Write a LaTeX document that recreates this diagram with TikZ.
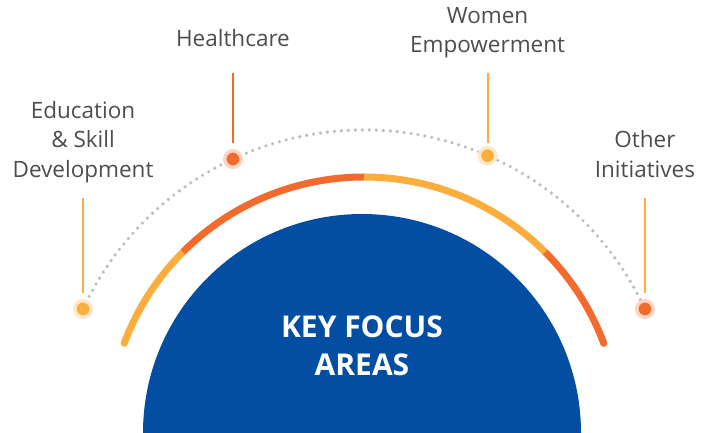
\documentclass[tikz,border=0pt]{standalone}
\usepackage{fontspec}
\setmainfont{Open Sans}
\usepackage{tikz}
\usetikzlibrary{calc}
\definecolor{keyblue}{HTML}{034EA2}
\definecolor{ringorange}{HTML}{F26B2D}
\definecolor{ringyellow}{HTML}{FBAD3D}
\definecolor{dotgray}{HTML}{BDBDBD}
\definecolor{labelgray}{HTML}{4D4D4D}

\begin{document}
\begin{tikzpicture}[x=1pt,y=1pt,
	dotnode/.style={circle,inner sep=0pt,minimum size=16.5pt,line width=3.5pt},
	arealabel/.style={align=center,inner sep=0pt,anchor=south,text depth=0pt,text=labelgray,font=\fontsize{22.5}{29.5}\selectfont},
	stem/.style={line width=2pt}]
			\useasboundingbox (0,0) rectangle (714,433);
			%draw blue half disc
			\fill[keyblue] (143,0) arc (180:0:219) -- cycle;
			\node[text=white,align=center,inner sep=0pt,anchor=south,text depth=0pt,font=\bfseries\fontsize{30}{38}\selectfont] (keytitle) at (362,57) {KEY FOCUS\\AREAS};
			%draw coloured ring
			\draw[ringyellow,line width=7pt,line cap=round] (364,0) ++(159.5:256) arc (159.5:135:256);
			\draw[ringorange,line width=7pt,line cap=round] (364,0) ++(45:256) arc (45:20.5:256);
			\draw[ringorange,line width=7pt] (364,0) ++(135:256) arc (135:90:256);
			\draw[ringyellow,line width=7pt] (364,0) ++(90:256) arc (90:45:256);
			%draw dotted arc
			\draw[dotgray,line width=3.6pt,line cap=round,dash pattern=on 0pt off 7pt] (364,-7) ++(155:310) arc (155:25:310);
			%draw dots
			\foreach \ang/\name/\col in {155/edu/ringyellow, 115/health/ringorange, 66.5/women/ringyellow, 25/other/ringorange}{
				\node[dotnode,fill=\col,draw=\col!28] (dot\name) at ($(364,-7)+(\ang:310)$) {};
			}
			%draw labels
			\node[arealabel] (lbledu) at ($(dotedu)+(0,131.5)$) {Education\\\& Skill\\Development};
			\node[arealabel] (lblhealth) at ($(dothealth)+(0,112)$) {Healthcare};
			\node[arealabel] (lblwomen) at ($(dotwomen)+(0,102.7)$) {Women\\Empowerment};
			\node[arealabel] (lblother) at ($(dotother)+(0,131.5)$) {Other\\Initiatives};
			%draw stems
			\draw[stem,ringyellow,shorten <=15.5pt,shorten >=21pt] (dotedu.center) -- (lbledu.south);
			\draw[stem,ringorange,shorten <=16pt,shorten >=26pt] (dothealth.center) -- (lblhealth.south);
			\draw[stem,ringyellow,shorten <=12.7pt,shorten >=20pt] (dotwomen.center) -- (lblwomen.south);
			\draw[stem,ringyellow,shorten <=15.5pt,shorten >=21pt] (dotother.center) -- (lblother.south);
			\end{tikzpicture}
\end{document}
